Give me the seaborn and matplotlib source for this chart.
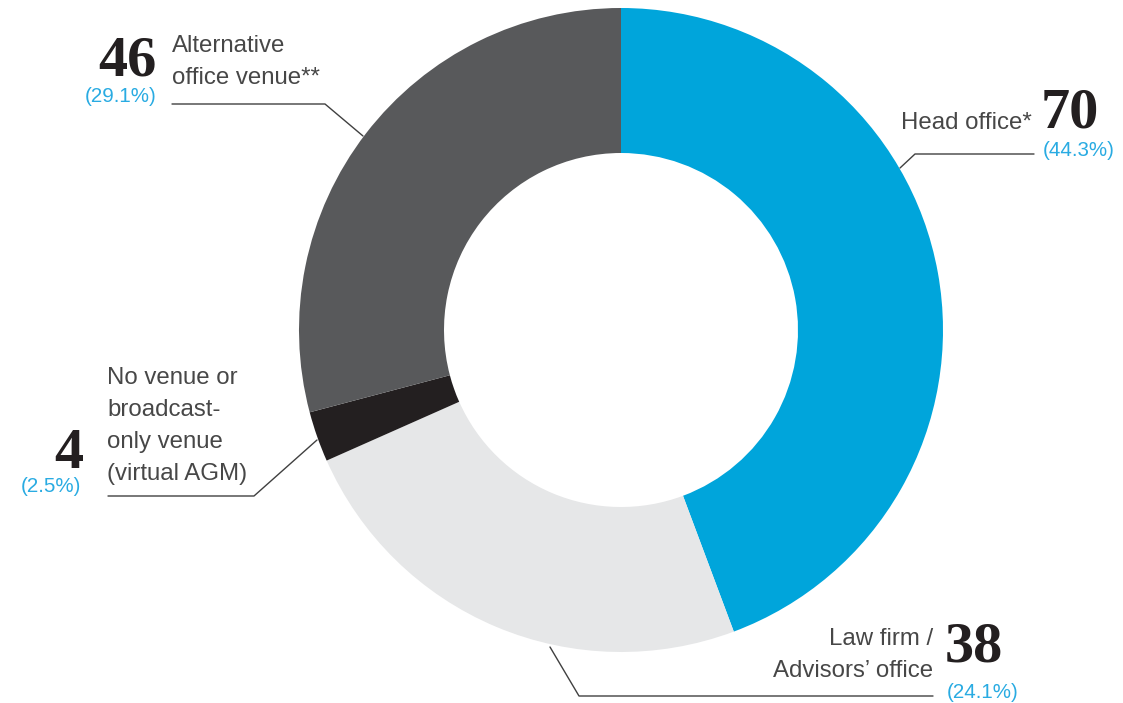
import matplotlib
matplotlib.use("Agg")
import matplotlib.pyplot as plt
import seaborn as sns

# ---- data ----
categories = ["Head office*", "Law firm /\nAdvisors\u2019 office",
              "No venue or\nbroadcast-\nonly venue\n(virtual AGM)",
              "Alternative\noffice venue**"]
values = [70, 38, 4, 46]
percents = ["(44.3%)", "(24.1%)", "(2.5%)", "(29.1%)"]
colors_hex = ["#00A5DB", "#E6E7E8", "#231F20", "#58595B"]

sns.set_theme(style="white")
plt.rcParams['font.family'] = ['Liberation Sans', 'DejaVu Sans']
palette = sns.color_palette(colors_hex)

W, H = 1123, 703
fig = plt.figure(figsize=(W / 100, H / 100), dpi=100)
ax = fig.add_axes([0, 0, 1, 1])

cx, cy, R, r_in = 621, 330, 322, 177
ax.pie(values, colors=palette, startangle=-90, counterclock=True,
       center=(cx, cy), radius=R,
       wedgeprops=dict(width=R - r_in, linewidth=0))
ax.set_xlim(0, W)
ax.set_ylim(H, 0)
ax.set_aspect('equal')
ax.axis('off')

label_col = "#474747"
num_col = "#231F20"
pct_col = "#29ABE2"
line_col = "#404040"
lfs = 17.3
pfs = 14.8
nfs = 42
ls = 1.6
serif = ['Liberation Serif', 'DejaVu Serif']

# Head office
ax.text(1032, 123, categories[0], ha='right', va='center', fontsize=lfs,
        color=label_col)
ax.text(1041, 128, str(values[0]), ha='left', va='baseline', fontsize=nfs,
        fontweight='bold', family=serif, color=num_col)
ax.text(1043, 150, percents[0], ha='left', va='center', fontsize=pfs,
        color=pct_col)
ax.plot([1034, 915, 900], [154, 154, 168], color=line_col, lw=1)

# Law firm
ax.text(933, 655, categories[1], ha='right', va='center', fontsize=lfs,
        color=label_col, linespacing=ls)
ax.text(945, 662, str(values[1]), ha='left', va='baseline', fontsize=nfs,
        fontweight='bold', family=serif, color=num_col)
ax.text(947, 692, percents[1], ha='left', va='center', fontsize=pfs,
        color=pct_col)
ax.plot([933, 579, 550], [696, 696, 647], color=line_col, lw=1)

# No venue
ax.text(107, 426, categories[2], ha='left', va='center', fontsize=lfs,
        color=label_col, linespacing=ls)
ax.text(83, 468, str(values[2]), ha='right', va='baseline', fontsize=nfs,
        fontweight='bold', family=serif, color=num_col)
ax.text(81, 487, percents[2], ha='right', va='center', fontsize=pfs,
        color=pct_col)
ax.plot([108, 254, 317], [496, 496, 440], color=line_col, lw=1)

# Alternative
ax.text(172, 62, categories[3], ha='left', va='center', fontsize=lfs,
        color=label_col, linespacing=ls)
ax.text(157, 75, str(values[3]), ha='right', va='baseline', fontsize=nfs,
        fontweight='bold', family=serif, color=num_col)
ax.text(156, 97, percents[3], ha='right', va='center', fontsize=pfs,
        color=pct_col)
ax.plot([172, 325, 363], [104, 104, 136], color=line_col, lw=1)

fig.savefig("out.png", dpi=100, facecolor="white")
